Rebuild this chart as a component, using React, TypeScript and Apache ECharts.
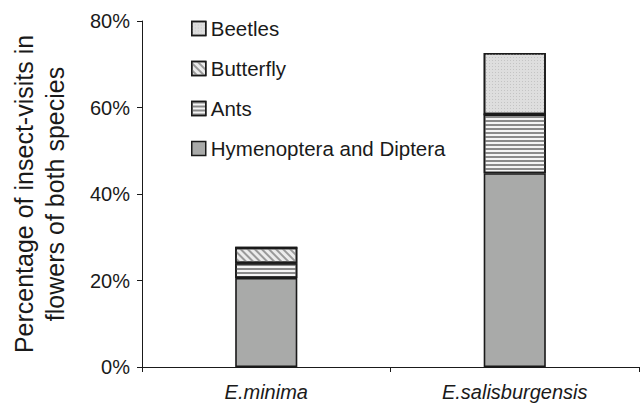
import React, { useEffect, useRef } from "react";
import * as echarts from "echarts";

const categories = ["E.minima", "E.salisburgensis"];
const hymenopteraDiptera = [20.6, 44.8];
const ants = [3.4, 13.6];
const butterfly = [3.6, 0];
const beetles = [0, 14.2];
const yTicks = [0, 20, 40, 60, 80];

const FONT = "'Liberation Sans', Arial, Helvetica, sans-serif";
const BORDER = { borderColor: "#1a1a1a", borderWidth: 1.6 };

export default function App() {
  const ref = useRef<HTMLDivElement>(null);
  useEffect(() => {
    if (!ref.current) return;
    const chart = echarts.init(ref.current, null, { renderer: "svg" });
    chart.setOption({
      animation: false,
      backgroundColor: "#ffffff",
      grid: { left: 141, right: 3, top: 21, bottom: 39 },
      legend: {
        orient: "vertical",
        left: 186,
        top: 13,
        icon: "rect",
        itemWidth: 14,
        itemHeight: 14,
        itemGap: 19,
        data: ["Beetles", "Butterfly", "Ants", "Hymenoptera and Diptera"],
        textStyle: { fontFamily: FONT, fontSize: 20.5, color: "#1a1a1a", lineHeight: 20 },
        itemStyle: { borderColor: "#1a1a1a", borderWidth: 1.5 },
      },
      xAxis: {
        type: "category",
        data: categories,
        axisLine: { lineStyle: { color: "#1a1a1a", width: 1 } },
        axisTick: { show: true, length: 5, lineStyle: { color: "#1a1a1a" } },
        axisLabel: {
          fontFamily: FONT,
          fontSize: 20,
          fontStyle: "italic",
          color: "#1a1a1a",
          margin: 15,
        },
      },
      yAxis: {
        type: "value",
        min: yTicks[0],
        max: yTicks[yTicks.length - 1],
        interval: 20,
        name: "Percentage of insect-visits in\nflowers of both species",
        nameLocation: "middle",
        nameGap: 72,
        nameTextStyle: { fontFamily: FONT, fontSize: 25, color: "#1a1a1a", lineHeight: 31 },
        splitLine: { show: false },
        axisLine: { show: true, lineStyle: { color: "#1a1a1a", width: 1 } },
        axisTick: { show: true, length: 5, lineStyle: { color: "#1a1a1a" } },
        axisLabel: {
          fontFamily: FONT,
          fontSize: 20,
          color: "#1a1a1a",
          margin: 12,
          formatter: (v: number) => v + "%",
        },
      },
      series: [
        {
          name: "Hymenoptera and Diptera",
          type: "bar",
          stack: "s",
          barWidth: "25%",
          data: hymenopteraDiptera,
          itemStyle: { color: "#a9aaa9", ...BORDER },
        },
        {
          name: "Ants",
          type: "bar",
          stack: "s",
          data: ants,
          itemStyle: {
            color: "#f4f4f4",
            ...BORDER,
            decal: {
              symbol: "rect",
              symbolSize: 1,
              dashArrayX: [1, 0],
              dashArrayY: [1.5, 1.8],
              rotation: 0,
              color: "#8a8a8a",
            },
          },
        },
        {
          name: "Butterfly",
          type: "bar",
          stack: "s",
          data: butterfly,
          itemStyle: {
            color: "#ececec",
            ...BORDER,
            decal: {
              symbol: "rect",
              symbolSize: 1,
              dashArrayX: [1, 0],
              dashArrayY: [2, 2.5],
              rotation: Math.PI / 4,
              color: "#9a9a9a",
            },
          },
        },
        {
          name: "Beetles",
          type: "bar",
          stack: "s",
          data: beetles,
          itemStyle: {
            color: "#dedede",
            ...BORDER,
            decal: {
              symbol: "rect",
              symbolSize: 1,
              dashArrayX: [1, 2],
              dashArrayY: [1, 2],
              rotation: 0,
              color: "#c4c4c4",
            },
          },
        },
      ],
    });
    return () => chart.dispose();
  }, []);
  return <div ref={ref} style={{ width: 642, height: 406, position: "absolute", left: 0, top: 0 }} />;
}
